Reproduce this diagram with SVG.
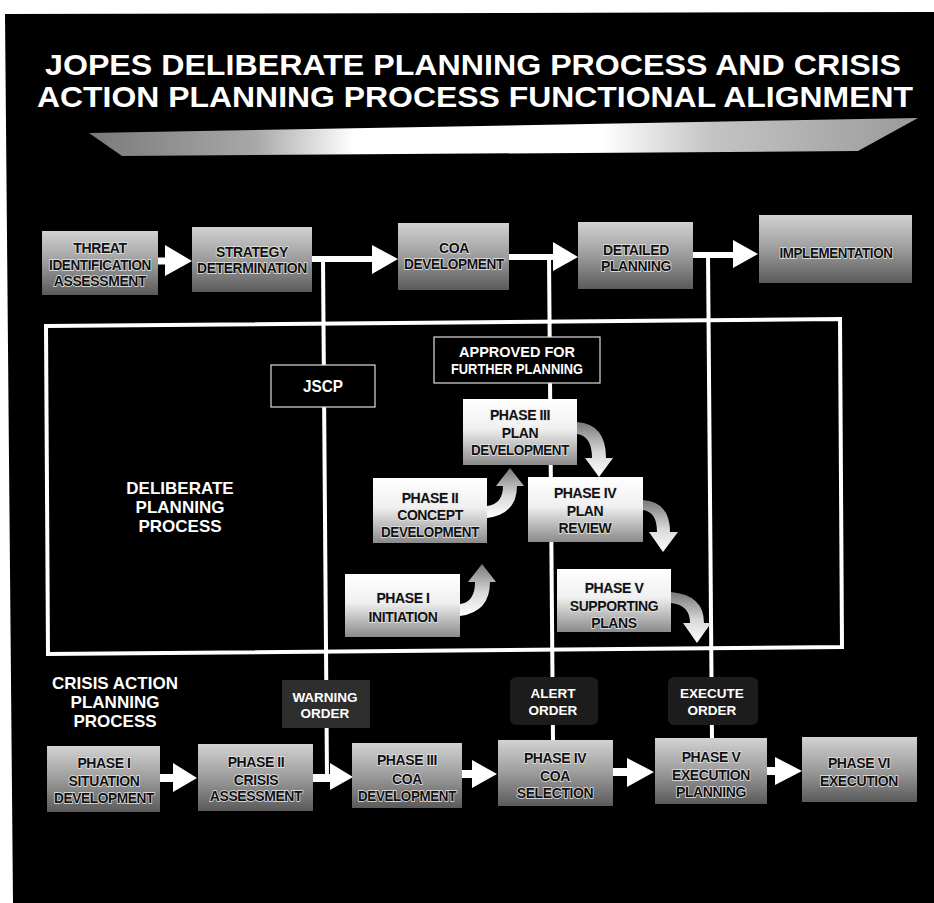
<svg xmlns="http://www.w3.org/2000/svg" width="934" height="903" viewBox="0 0 934 903">
<defs>
<linearGradient id="gBox" x1="0" y1="0" x2="0" y2="1"><stop offset="0" stop-color="#d2d2d2"/><stop offset="0.5" stop-color="#9c9c9c"/><stop offset="1" stop-color="#5a5a5a"/></linearGradient>
<linearGradient id="gPhase" x1="0" y1="0" x2="0" y2="1"><stop offset="0" stop-color="#ffffff"/><stop offset="0.45" stop-color="#f0f0f0"/><stop offset="1" stop-color="#8a8a8a"/></linearGradient>
<linearGradient id="gCurl" x1="0" y1="0" x2="0" y2="1"><stop offset="0" stop-color="#777777"/><stop offset="0.55" stop-color="#d8d8d8"/><stop offset="1" stop-color="#ffffff"/></linearGradient>
<linearGradient id="gBanner" x1="0" y1="0" x2="1" y2="0"><stop offset="0" stop-color="#7a7a7a"/><stop offset="0.2" stop-color="#a8a8a8"/><stop offset="0.32" stop-color="#ffffff"/><stop offset="0.62" stop-color="#ffffff"/><stop offset="0.75" stop-color="#c4c4c4"/><stop offset="1" stop-color="#9a9a9a"/></linearGradient>
</defs>
<style>
.dk{font-family:"Liberation Sans",Arial,sans-serif;font-weight:bold;font-size:14px;fill:#111;text-anchor:middle;stroke:#e6e6e6;stroke-width:1.4px;paint-order:stroke;letter-spacing:-0.4px}
.wt{font-family:"Liberation Sans",Arial,sans-serif;font-weight:bold;fill:#fff;text-anchor:middle}
.box{fill:url(#gBox)}
.ph{fill:url(#gPhase)}
.ln{stroke:#fff;fill:none}
.ah{fill:#fff}
.curl{fill:url(#gCurl)}
.lbl{fill:#000;stroke:#ddd;stroke-width:1.2}
.ord{fill:#2e2e2e}
.ord2{fill:#1c1c1c}
</style>
<rect x="0" y="0" width="934" height="903" fill="#fff"/>
<polygon points="5,14 934,12 934,903 13,903" fill="#000"/>

<g id="title">
<text class="wt" x="473" y="75" font-size="30" textLength="856" lengthAdjust="spacingAndGlyphs">JOPES DELIBERATE PLANNING PROCESS AND CRISIS</text>
<text class="wt" x="475" y="107" font-size="30" textLength="876" lengthAdjust="spacingAndGlyphs">ACTION PLANNING PROCESS FUNCTIONAL ALIGNMENT</text>
<polygon points="89,133 918,118 858,151 122,156" fill="url(#gBanner)"/>
</g>

<g id="connectors">
<polygon class="ln" points="46,326 840,319 842,647 48,654" stroke-width="4"/>
<path class="ln" d="M158,261 H167" stroke-width="7"/>
<polygon class="ah" points="165,245 192,261 165,276"/>
<path class="ln" d="M311,259 H374" stroke-width="6"/>
<polygon class="ah" points="372,245 398,259 372,274"/>
<path class="ln" d="M323,259 L327,778" stroke-width="4"/>
<path class="ln" d="M508,257 H555" stroke-width="6"/>
<polygon class="ah" points="553,242 578,257 553,271"/>
<path class="ln" d="M549,257 L553,741" stroke-width="4"/>
<path class="ln" d="M692,255 H735" stroke-width="6"/>
<polygon class="ah" points="733,240 758,254 733,268"/>
<path class="ln" d="M708,255 L712,739" stroke-width="4"/>
<path class="curl" d="M460,616 Q490,612 490,582 L496,582 L482,564 L468,582 L475,582 Q475,602 460,604 Z"/>
<path class="curl" d="M487,518 Q517,514 517,486 L524,486 L510,468 L496,486 L503,486 Q503,504 487,506 Z"/>
<path class="curl" d="M577,422 Q606,424 606,458 L613,458 L599,477 L585,458 L592,458 Q592,436 577,434 Z"/>
<path class="curl" d="M643,500 Q670,502 670,532 L678,532 L663,552 L649,532 L657,532 Q657,512 643,510 Z"/>
<path class="curl" d="M671,592 Q704,595 704,623 L711,623 L697,643 L683,623 L690,623 Q690,605 671,603 Z"/>
<path class="ln" d="M159,778 H175" stroke-width="8"/>
<polygon class="ah" points="173,763 197,778 173,792"/>
<path class="ln" d="M312,778 H332" stroke-width="8"/>
<polygon class="ah" points="330,763 353,777 330,790"/>
<path class="ln" d="M461,774 H474" stroke-width="8"/>
<polygon class="ah" points="472,760 497,774 472,788"/>
<path class="ln" d="M612,772 H629" stroke-width="8"/>
<polygon class="ah" points="627,758 654,772 627,787"/>
<path class="ln" d="M766,771 H777" stroke-width="8"/>
<polygon class="ah" points="775,757 802,771 775,785"/>
</g>

<g id="threat"><rect class="box" x="42" y="231" width="116" height="64"/>
<text class="dk" x="100" y="253">THREAT</text>
<text class="dk" x="100" y="270" textLength="102" lengthAdjust="spacingAndGlyphs">IDENTIFICATION</text>
<text class="dk" x="100" y="286">ASSESSMENT</text></g>

<g id="strategy"><rect class="box" x="192" y="227" width="120" height="65"/>
<text class="dk" x="252" y="257">STRATEGY</text>
<text class="dk" x="252" y="273" textLength="110" lengthAdjust="spacingAndGlyphs">DETERMINATION</text></g>

<g id="coa"><rect class="box" x="398" y="223" width="111" height="67"/>
<text class="dk" x="454" y="253">COA</text>
<text class="dk" x="454" y="269" textLength="100" lengthAdjust="spacingAndGlyphs">DEVELOPMENT</text></g>

<g id="detailed"><rect class="box" x="578" y="222" width="115" height="67"/>
<text class="dk" x="636" y="255">DETAILED</text>
<text class="dk" x="636" y="271">PLANNING</text></g>

<g id="implementation"><rect class="box" x="759" y="215" width="153" height="68"/>
<text class="dk" x="836" y="258" textLength="113" lengthAdjust="spacingAndGlyphs">IMPLEMENTATION</text></g>

<g id="deliberate-label">
<text class="wt" x="180" y="494" font-size="17">DELIBERATE</text>
<text class="wt" x="180" y="513" font-size="17">PLANNING</text>
<text class="wt" x="180" y="532" font-size="17">PROCESS</text></g>

<g id="jscp"><rect class="lbl" x="271" y="365" width="104" height="42"/>
<text class="wt" x="323" y="392" font-size="17" textLength="40" lengthAdjust="spacingAndGlyphs">JSCP</text></g>

<g id="approved"><rect class="lbl" x="434" y="337" width="166" height="46"/>
<text class="wt" x="517" y="357" font-size="14.5">APPROVED FOR</text>
<text class="wt" x="517" y="374" font-size="14.5" textLength="132" lengthAdjust="spacingAndGlyphs">FURTHER PLANNING</text></g>

<g id="dp-phase3"><rect class="ph" x="463" y="399" width="114" height="66"/>
<text class="dk" x="520" y="420">PHASE III</text>
<text class="dk" x="520" y="438">PLAN</text>
<text class="dk" x="520" y="455" textLength="98" lengthAdjust="spacingAndGlyphs">DEVELOPMENT</text></g>

<g id="dp-phase4"><rect class="ph" x="528" y="477" width="115" height="65"/>
<text class="dk" x="585" y="498">PHASE IV</text>
<text class="dk" x="585" y="516">PLAN</text>
<text class="dk" x="585" y="533">REVIEW</text></g>

<g id="dp-phase2"><rect class="ph" x="373" y="478" width="114" height="65"/>
<text class="dk" x="430" y="503">PHASE II</text>
<text class="dk" x="430" y="520">CONCEPT</text>
<text class="dk" x="430" y="537" textLength="98" lengthAdjust="spacingAndGlyphs">DEVELOPMENT</text></g>

<g id="dp-phase1"><rect class="ph" x="345" y="574" width="115" height="63"/>
<text class="dk" x="403" y="603">PHASE I</text>
<text class="dk" x="403" y="622">INITIATION</text></g>

<g id="dp-phase5"><rect class="ph" x="557" y="569" width="114" height="63"/>
<text class="dk" x="614" y="593">PHASE V</text>
<text class="dk" x="614" y="611">SUPPORTING</text>
<text class="dk" x="614" y="628">PLANS</text></g>

<g id="crisis-label">
<text class="wt" x="115" y="689" font-size="17">CRISIS ACTION</text>
<text class="wt" x="115" y="708" font-size="17">PLANNING</text>
<text class="wt" x="115" y="727" font-size="17">PROCESS</text></g>

<g id="warning-order"><rect class="ord" x="282" y="680" width="88" height="48"/>
<text class="wt" x="325" y="702" font-size="13.5">WARNING</text>
<text class="wt" x="325" y="718" font-size="13.5">ORDER</text></g>

<g id="alert-order"><rect class="ord2" x="510" y="677" width="88" height="48" rx="6"/>
<text class="wt" x="553" y="698" font-size="13.5">ALERT</text>
<text class="wt" x="553" y="715" font-size="13.5">ORDER</text></g>

<g id="execute-order"><rect class="ord2" x="668" y="677" width="90" height="48" rx="6"/>
<text class="wt" x="712" y="698" font-size="13.5">EXECUTE</text>
<text class="wt" x="712" y="715" font-size="13.5">ORDER</text></g>

<g id="cap-phase1"><rect class="box" x="47" y="746" width="113" height="66"/>
<text class="dk" x="104" y="768">PHASE I</text>
<text class="dk" x="104" y="786">SITUATION</text>
<text class="dk" x="104" y="803" textLength="100" lengthAdjust="spacingAndGlyphs">DEVELOPMENT</text></g>

<g id="cap-phase2"><rect class="box" x="198" y="744" width="115" height="67"/>
<text class="dk" x="256" y="767">PHASE II</text>
<text class="dk" x="256" y="785">CRISIS</text>
<text class="dk" x="256" y="801">ASSESSMENT</text></g>

<g id="cap-phase3"><rect class="box" x="352" y="743" width="110" height="65"/>
<text class="dk" x="407" y="765">PHASE III</text>
<text class="dk" x="407" y="784">COA</text>
<text class="dk" x="407" y="801" textLength="98" lengthAdjust="spacingAndGlyphs">DEVELOPMENT</text></g>

<g id="cap-phase4"><rect class="box" x="498" y="740" width="115" height="66"/>
<text class="dk" x="555" y="763">PHASE IV</text>
<text class="dk" x="555" y="781">COA</text>
<text class="dk" x="555" y="798">SELECTION</text></g>

<g id="cap-phase5"><rect class="box" x="655" y="738" width="112" height="66"/>
<text class="dk" x="711" y="762">PHASE V</text>
<text class="dk" x="711" y="780">EXECUTION</text>
<text class="dk" x="711" y="797">PLANNING</text></g>

<g id="cap-phase6"><rect class="box" x="802" y="737" width="115" height="65"/>
<text class="dk" x="859" y="768">PHASE VI</text>
<text class="dk" x="859" y="786">EXECUTION</text></g>
</svg>
